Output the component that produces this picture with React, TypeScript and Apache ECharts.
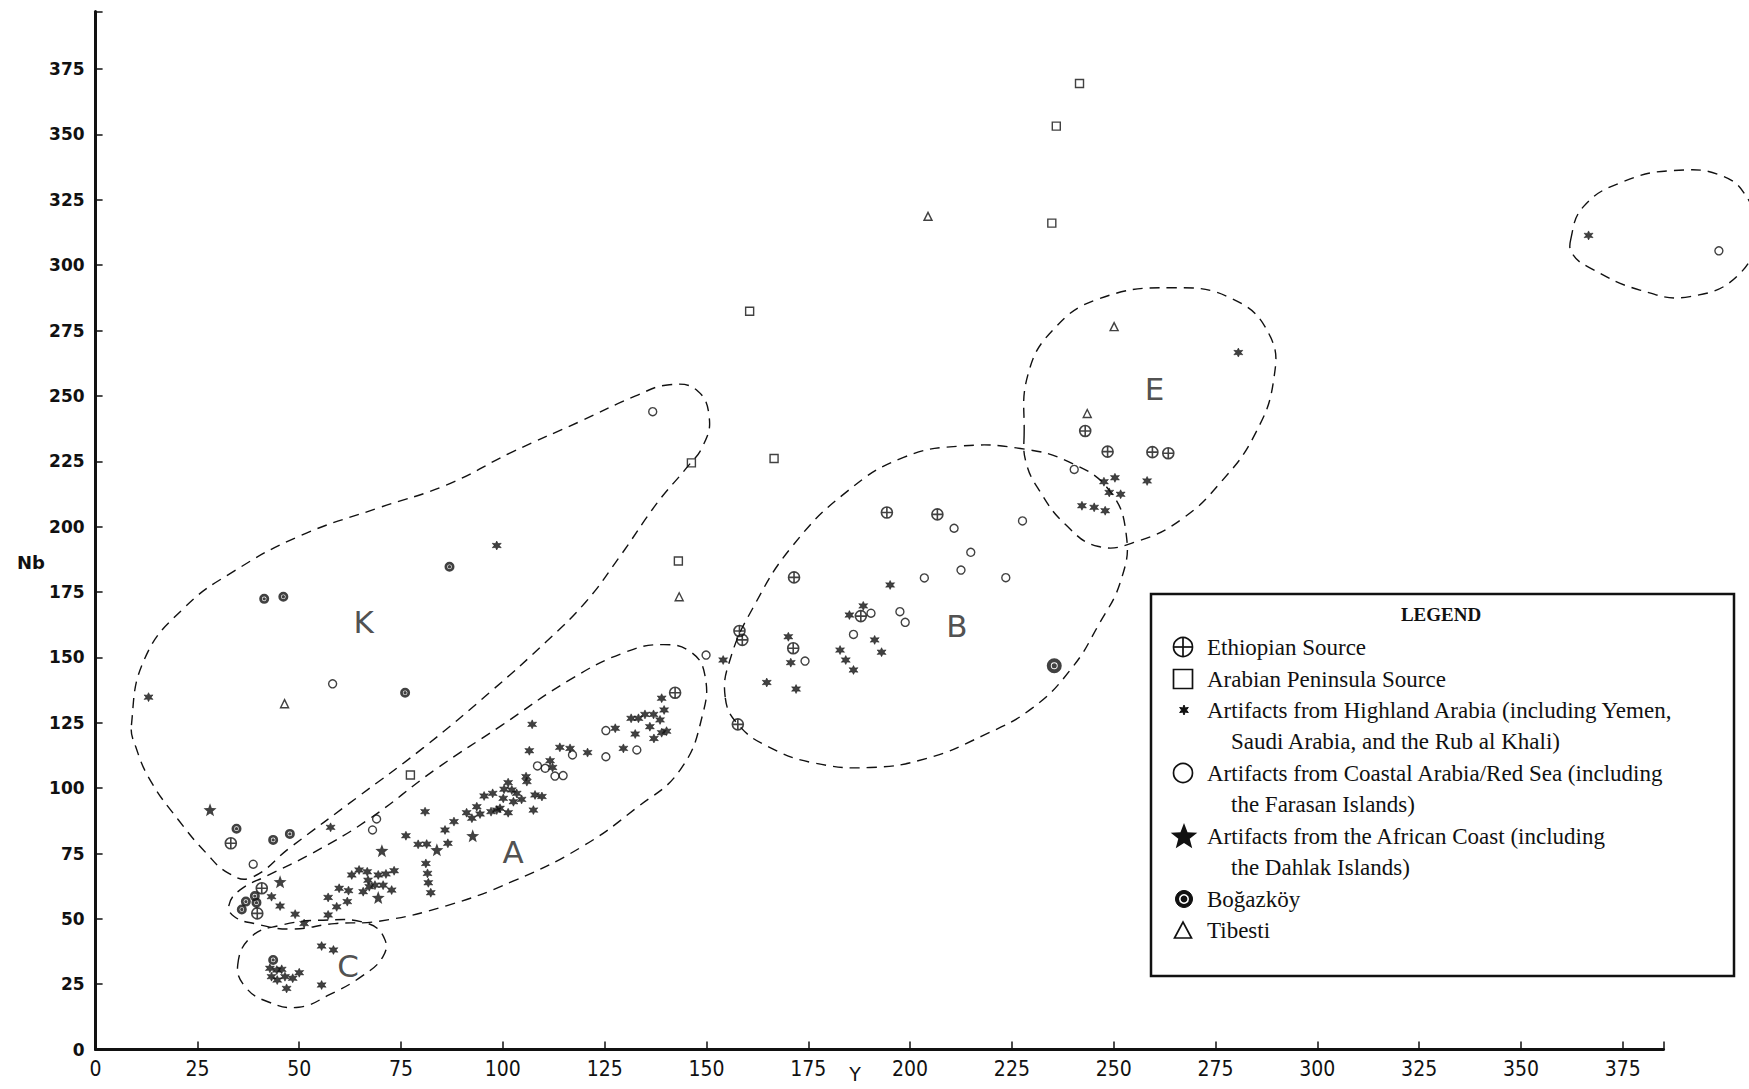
import React, { useEffect, useRef } from 'react';
import * as echarts from 'echarts';

// ---------------- data (Y ppm on x-axis, Nb ppm on y-axis) ----------------
const ethiopian: number[][] = [
  [33.2, 78.9], [39.7, 52.1], [40.8, 61.7], [142.3, 136.5], [158.1, 160.1], [158.8, 156.7],
  [157.7, 124.4], [171.5, 180.6], [171.3, 153.5], [187.9, 165.8], [206.7, 204.7], [194.3, 205.4],
  [243.0, 236.6], [248.5, 228.7], [259.5, 228.5], [263.4, 228.1],
];

const arabian: number[][] = [
  [241.6, 369.5], [235.9, 353.2], [234.8, 316.1], [160.6, 282.4], [166.6, 226.1],
  [146.3, 224.4], [143.1, 186.9], [77.3, 105.0],
];

const highland: number[][] = [
  // isolated
  [13.0, 134.8], [98.5, 192.8], [280.6, 266.6], [366.6, 311.4],
  // E group
  [247.6, 217.2], [250.3, 218.7], [248.9, 213.1], [251.7, 212.4], [242.2, 208.0], [245.2, 207.4],
  [247.9, 206.1], [258.2, 217.5],
  // B group
  [195.1, 177.7], [188.5, 169.7], [185.1, 166.2], [191.3, 156.7], [193.0, 152.0], [182.8, 152.8],
  [184.2, 149.0], [186.1, 145.2], [170.1, 157.9], [170.7, 148.0], [164.8, 140.4], [172.0, 137.9],
  [154.1, 149.0],
  // A group, upper part
  [107.2, 124.4], [106.5, 114.3], [114.0, 115.6], [116.5, 115.2], [120.8, 113.6], [127.6, 122.9],
  [129.6, 115.2], [132.5, 120.7], [131.5, 126.7], [133.3, 126.7], [134.9, 128.2], [137.0, 128.2],
  [138.6, 126.1], [136.1, 123.5], [139.6, 129.9], [139.0, 134.4], [137.1, 119.0], [139.0, 121.2],
  [140.2, 121.8], [111.6, 110.5], [112.2, 107.9], [105.7, 104.4], [105.9, 102.5], [107.9, 97.4],
  [109.6, 96.8],
  // A group, lower part
  [80.9, 91.0], [57.7, 85.0], [76.2, 81.8], [79.2, 78.5], [81.3, 78.6], [86.5, 78.9], [85.8, 84.0],
  [88.0, 87.2], [91.1, 90.6], [92.4, 88.5], [93.6, 92.9], [94.4, 90.1], [97.1, 91.0], [98.5, 91.6],
  [99.3, 92.3], [101.3, 90.6], [95.4, 97.0], [97.5, 98.0], [100.1, 96.1], [100.3, 99.6],
  [102.2, 99.3], [103.4, 98.0], [102.6, 94.8], [104.6, 95.7], [101.3, 102.1], [107.5, 91.6],
  [81.1, 71.2], [81.5, 67.4], [81.7, 63.8], [82.3, 60.0], [62.9, 66.8], [64.7, 68.7], [66.7, 68.0],
  [66.9, 64.8], [67.2, 62.3], [69.4, 66.8], [71.3, 67.2], [73.3, 68.4], [68.6, 62.9], [70.6, 62.9],
  [72.7, 61.0], [65.7, 60.4], [59.8, 61.7], [62.1, 60.8], [57.1, 58.2], [59.2, 54.6], [61.8, 56.6],
  [57.1, 51.5], [43.2, 58.5], [45.3, 54.9], [49.0, 51.8], [51.2, 48.2],
  // C group
  [42.8, 31.1], [44.5, 30.4], [45.7, 30.7], [43.2, 27.9], [44.6, 26.6], [46.5, 27.9], [48.4, 27.3],
  [50.0, 29.4], [46.9, 23.4], [55.5, 39.6], [58.4, 38.1], [55.5, 24.7],
];

const coastal: number[][] = [
  [136.8, 244.0], [58.2, 139.9], [38.7, 70.9], [68.0, 84.0], [69.0, 88.2], [149.9, 150.9],
  [125.3, 122.0], [117.1, 112.7], [125.3, 112.0], [132.9, 114.6], [108.5, 108.5], [110.4, 107.6],
  [112.8, 104.6], [114.8, 104.8], [210.8, 199.4], [214.9, 190.2], [212.5, 183.4], [203.5, 180.4],
  [223.5, 180.5], [227.6, 202.2], [190.4, 166.9], [197.5, 167.5], [198.8, 163.4], [186.1, 158.8],
  [174.2, 148.6], [240.3, 221.9], [398.6, 305.5],
];

const african: number[][] = [
  [28.1, 91.7], [45.3, 64.2], [92.6, 81.8], [70.3, 76.1], [83.8, 76.4], [69.4, 58.2],
];

const bogazkoy: number[][] = [
  [41.4, 172.4], [46.1, 173.2], [86.9, 184.7], [76.0, 136.5], [34.6, 84.5], [43.6, 80.2],
  [47.7, 82.5], [235.4, 146.8], [43.6, 34.3], [35.9, 53.6], [36.9, 56.6], [39.1, 58.7], [39.5, 56.2],
];
const BIG_BOGAZKOY_INDEX = 7;

const tibesti: number[][] = [
  [204.4, 318.7], [250.1, 276.5], [243.5, 243.3], [143.3, 173.2], [46.4, 132.3],
];

// Group outlines (dashed), in data units
const outlineK: number[][] = [
  [8.8, 124.1], [12.1, 149.7], [21.7, 168.9], [34.0, 183.0], [50.5, 196.7], [69.7, 207.3],
  [86.1, 215.9], [102.5, 228.7], [118.9, 240.2], [132.6, 250.0], [140.9, 254.3], [147.7, 252.1],
  [150.7, 241.5], [149.1, 230.8], [145.0, 222.3], [138.1, 209.5], [128.5, 188.1], [120.3, 171.1],
  [110.7, 156.1], [97.0, 136.9], [80.6, 115.6], [64.2, 96.4], [47.7, 77.2], [38.1, 65.7],
  [32.7, 67.4], [27.2, 75.1], [20.3, 87.9], [13.5, 102.8], [9.9, 115.6],
];
const outlineA: number[][] = [
  [32.7, 55.0], [35.4, 61.0], [42.3, 66.6], [53.2, 75.1], [66.9, 87.9], [83.4, 107.1],
  [99.8, 124.1], [116.2, 141.2], [129.9, 151.9], [139.5, 154.9], [146.3, 151.9], [149.6, 143.3],
  [149.1, 128.4], [143.6, 107.1], [132.6, 92.2], [119.0, 77.2], [102.5, 64.4], [86.1, 55.0],
  [69.6, 49.1], [58.7, 48.2], [47.7, 46.1], [39.0, 48.2], [34.1, 50.8],
];
const outlineC: number[][] = [
  [34.9, 32.4], [38.2, 43.1], [45.0, 47.4], [55.9, 49.5], [66.9, 48.2], [71.0, 42.2],
  [70.5, 35.4], [65.5, 28.2], [57.3, 20.9], [49.9, 16.2], [42.3, 18.3], [36.8, 23.9],
];
const outlineB: number[][] = [
  [154.6, 134.8], [155.9, 149.7], [161.4, 168.9], [171.0, 192.4], [184.7, 213.7], [198.4, 226.5],
  [212.1, 230.8], [227.1, 229.9], [239.5, 224.4], [249.0, 213.7], [253.1, 196.7], [251.8, 179.6],
  [246.3, 162.5], [239.5, 145.5], [229.9, 130.5], [217.6, 119.9], [203.9, 111.3], [190.2, 107.9],
  [176.5, 109.6], [165.5, 115.6], [157.9, 124.1],
];
const outlineE: number[][] = [
  [228.0, 235.1], [229.0, 258.5], [235.3, 275.6], [246.3, 287.1], [264.1, 291.4], [279.2, 287.1],
  [288.2, 273.5], [289.3, 256.4], [284.6, 235.1], [276.4, 217.2], [266.9, 203.1], [256.0, 194.5],
  [246.3, 192.4], [238.1, 200.9], [231.8, 213.7], [228.5, 224.4],
];
const outlineFar: number[][] = [
  [362.2, 309.7], [365.4, 322.5], [375.0, 331.9], [387.4, 336.2], [399.7, 334.0], [406.0, 324.7],
  [408.0, 314.0], [403.8, 296.9], [391.5, 288.0], [379.2, 290.5], [366.8, 299.1], [362.7, 304.2],
];
const outlines = [outlineK, outlineA, outlineC, outlineB, outlineE, outlineFar];

const groupNames = ['K', 'A', 'C', 'B', 'E'];
const groupLabelPos: number[][] = [[65.8, 163.4], [102.5, 75.5], [62.0, 32.0], [211.5, 162.1], [260.0, 252.6]];

const legendLines: string[][] = [
  ['Ethiopian Source'],
  ['Arabian Peninsula Source'],
  ['Artifacts from Highland Arabia (including Yemen,', 'Saudi Arabia, and the Rub al Khali)'],
  ['Artifacts from Coastal Arabia/Red Sea (including', 'the Farasan Islands)'],
  ['Artifacts from the African Coast (including', 'the Dahlak Islands)'],
  ['Boğazköy'],
  ['Tibesti'],
];

// ---------------- symbols ----------------
function starPoints(n: number, r1: number, r2: number, cx = 0, cy = 0): number[][] {
  const pts: number[][] = [];
  for (let i = 0; i < 2 * n; i++) {
    const r = i % 2 ? r2 : r1;
    const a = (Math.PI * i) / n - Math.PI / 2;
    pts.push([cx + r * Math.cos(a), cy + r * Math.sin(a)]);
  }
  return pts;
}
function pathFromPts(pts: number[][]): string {
  return pts.map((p, i) => (i ? 'L' : 'M') + p[0].toFixed(2) + ',' + p[1].toFixed(2)).join('') + 'Z';
}
const SYM_PLUS = 'path://M-10,0A10,10 0 1,0 10,0A10,10 0 1,0 -10,0Z M-10,0L10,0 M0,-10L0,10';
const SYM_ASTER = 'path://' + pathFromPts(starPoints(6, 10, 5));
const SYM_STAR = 'path://' + pathFromPts(starPoints(5, 10, 4.2));
const SYM_BOG =
  'path://M0,-10A10,10 0 1,1 0,10A10,10 0 1,1 0,-10Z M0,-4.6A4.6,4.6 0 1,0 0,4.6A4.6,4.6 0 1,0 0,-4.6Z M0,-3.4A3.4,3.4 0 1,1 0,3.4A3.4,3.4 0 1,1 0,-3.4Z';

const INK = '#111';
const hollow = { color: 'rgba(0,0,0,0)', borderColor: INK, borderWidth: 1.4 };

function buildLegend(): any[] {
  const els: any[] = [];
  const bx = 1151, by = 594, bw = 583, bh = 382;
  els.push({ type: 'rect', shape: { x: bx, y: by, width: bw, height: bh }, style: { fill: '#fff', stroke: INK, lineWidth: 2.5 }, z: 10 });
  els.push({ type: 'text', x: 1441, y: 614, z: 11, style: { text: 'LEGEND', font: 'bold 19px "Liberation Serif", serif', fill: INK, align: 'center', verticalAlign: 'middle' } });
  const rowY = [647, 679, 710, 773, 836, 899, 930];
  const contY = [0, 0, 741, 804, 867, 0, 0];
  const sx = 1183;
  const mk = () => ({ fill: 'none', stroke: INK, lineWidth: 1.7 });
  legendLines.forEach((lines, i) => {
    els.push({ type: 'text', x: 1207, y: rowY[i], z: 11, style: { text: lines[0], font: '23px "Liberation Serif", serif', fill: INK, verticalAlign: 'middle' } });
    if (lines[1]) {
      els.push({ type: 'text', x: 1231, y: contY[i], z: 11, style: { text: lines[1], font: '23px "Liberation Serif", serif', fill: INK, verticalAlign: 'middle' } });
    }
  });
  // symbols
  els.push({ type: 'circle', z: 11, shape: { cx: sx, cy: rowY[0], r: 9.5 }, style: mk() });
  els.push({ type: 'line', z: 11, shape: { x1: sx - 9.5, y1: rowY[0], x2: sx + 9.5, y2: rowY[0] }, style: mk() });
  els.push({ type: 'line', z: 11, shape: { x1: sx, y1: rowY[0] - 9.5, x2: sx, y2: rowY[0] + 9.5 }, style: mk() });
  els.push({ type: 'rect', z: 11, shape: { x: sx - 9.5, y: rowY[1] - 9.5, width: 19, height: 19 }, style: mk() });
  els.push({ type: 'polygon', z: 11, shape: { points: starPoints(6, 5, 2.4, sx + 1, rowY[2]) }, style: { fill: INK, stroke: INK, lineWidth: 1 } });
  els.push({ type: 'circle', z: 11, shape: { cx: sx, cy: rowY[3], r: 9.5 }, style: mk() });
  els.push({ type: 'polygon', z: 11, shape: { points: starPoints(5, 14, 6, sx + 1, rowY[4] + 1) }, style: { fill: INK } });
  els.push({ type: 'circle', z: 11, shape: { cx: sx + 1, cy: rowY[5], r: 8.5 }, style: { fill: INK, stroke: INK, lineWidth: 1 } });
  els.push({ type: 'circle', z: 12, shape: { cx: sx + 1, cy: rowY[5], r: 4.2 }, style: { fill: 'none', stroke: '#fff', lineWidth: 1.6 } });
  els.push({ type: 'polygon', z: 11, shape: { points: [[sx - 8.5, rowY[6] + 8], [sx + 8.5, rowY[6] + 8], [sx, rowY[6] - 8]] }, style: mk() });
  return els;
}

export default function App() {
  const ref = useRef<HTMLDivElement>(null);
  useEffect(() => {
    if (!ref.current) return;
    const chart = echarts.init(ref.current, null, { renderer: 'svg' });
    const tickFmt = (v: number) => (v % 25 === 0 ? String(v) : '');
    const option: any = {
      animation: false,
      backgroundColor: '#fff',
      grid: { left: 95.6, right: 85.5, top: 11.6, bottom: 39.4 },
      xAxis: {
        type: 'value', min: 0, max: 385, interval: 25,
        axisLine: { show: true, onZero: false, lineStyle: { color: INK, width: 3 } },
        axisTick: { show: true, inside: true, length: 8, lineStyle: { color: INK, width: 1.5 } },
        axisLabel: {
          formatter: tickFmt, margin: 9, color: INK, fontSize: 21,
          fontFamily: "'Liberation Sans Narrow', 'DejaVu Sans Condensed', 'DejaVu Sans', sans-serif",
        },
        splitLine: { show: false },
      },
      yAxis: {
        type: 'value', min: 0, max: 397, interval: 25,
        axisLine: { show: true, onZero: false, lineStyle: { color: INK, width: 3 } },
        axisTick: { show: true, inside: true, length: 7, lineStyle: { color: INK, width: 1.5 } },
        axisLabel: {
          formatter: tickFmt, margin: 11, color: INK, fontSize: 17, fontWeight: 'bold',
          fontFamily: "'DejaVu Sans', sans-serif",
        },
        splitLine: { show: false },
      },
      series: [
        {
          type: 'custom', coordinateSystem: 'cartesian2d', silent: true, clip: false,
          data: outlines.map((o, i) => [o[0][0], o[0][1], i]),
          encode: { x: 0, y: 1 },
          renderItem: (params: any, api: any) => {
            const pts = outlines[params.dataIndex].map((p) => api.coord(p));
            return {
              type: 'polygon',
              shape: { points: pts, smooth: 0.45 },
              style: { fill: 'none', stroke: INK, lineWidth: 1.4, lineDash: [10, 7] },
            };
          },
        },
        { name: 'Ethiopian Source', type: 'scatter', clip: false, silent: true, data: ethiopian, symbol: SYM_PLUS, symbolSize: 11, itemStyle: { ...hollow, borderWidth: 1.6 } },
        { name: 'Arabian Peninsula Source', type: 'scatter', clip: false, silent: true, data: arabian, symbol: 'rect', symbolSize: 8, itemStyle: hollow },
        { name: 'Highland Arabia', type: 'scatter', clip: false, silent: true, data: highland, symbol: SYM_ASTER, symbolSize: 9, itemStyle: { color: INK, borderColor: INK, borderWidth: 0.6 } },
        { name: 'Coastal Arabia/Red Sea', type: 'scatter', clip: false, silent: true, data: coastal, symbol: 'circle', symbolSize: 8, itemStyle: hollow },
        { name: 'African Coast', type: 'scatter', clip: false, silent: true, data: african, symbol: SYM_STAR, symbolSize: 13, itemStyle: { color: INK } },
        {
          name: 'Boğazköy', type: 'scatter', clip: false, silent: true, data: bogazkoy, symbol: SYM_BOG,
          symbolSize: (_v: any, p: any) => (p.dataIndex === BIG_BOGAZKOY_INDEX ? 15 : 10),
          itemStyle: { color: INK },
        },
        { name: 'Tibesti', type: 'scatter', clip: false, silent: true, data: tibesti, symbol: 'triangle', symbolSize: 8, itemStyle: hollow },
        {
          name: 'groups', type: 'scatter', clip: false, silent: true, symbolSize: 0,
          data: groupNames.map((n, i) => ({ name: n, value: groupLabelPos[i] })),
          label: {
            show: true, position: 'inside', formatter: (p: any) => p.name,
            fontSize: 31, fontWeight: 'normal', color: '#222', fontFamily: "'DejaVu Sans', sans-serif",
          },
        },
      ],
      graphic: [
        { type: 'text', x: 31, y: 562, style: { text: 'Nb', font: 'bold 18px "DejaVu Sans", sans-serif', fill: INK, align: 'center', verticalAlign: 'middle' } },
        { type: 'text', x: 855, y: 1074, style: { text: 'Y', font: '19px "DejaVu Sans", sans-serif', fill: INK, align: 'center', verticalAlign: 'middle' } },
        ...buildLegend(),
      ],
    };
    chart.setOption(option);
    return () => chart.dispose();
  }, []);
  return (
    <div
      ref={ref}
      style={{ position: 'fixed', left: 0, top: 0, width: 1749, height: 1089, background: '#fff' }}
    />
  );
}
